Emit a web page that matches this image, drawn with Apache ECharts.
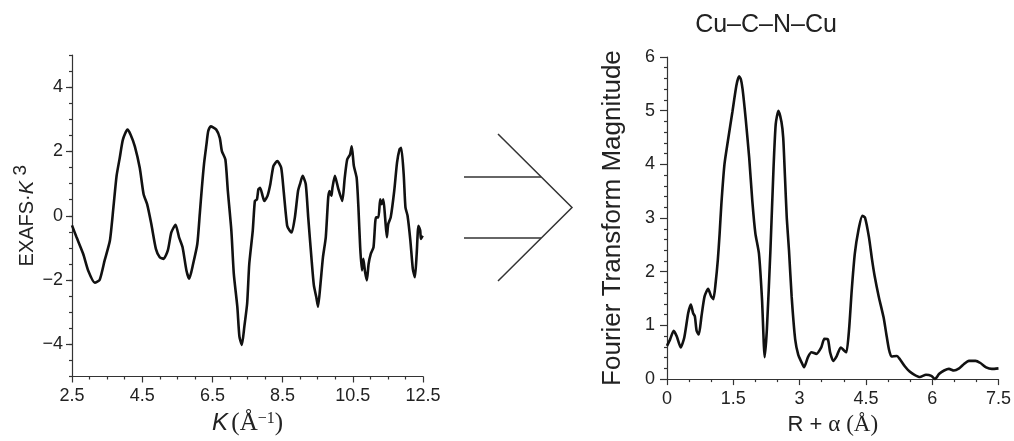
<!DOCTYPE html>
<html>
<head>
<meta charset="utf-8">
<script src="https://cdn.jsdelivr.net/npm/echarts@6/dist/echarts.min.js"></script>
<style>
  html, body { margin: 0; padding: 0; background: #fff; }
  #chart { width: 1014px; height: 441px; }
</style>
</head>
<body>
<div id="chart"></div>
<script>
// EXAFS oscillation (k-space, weighted by k^3)
const exafsK = [2.5,2.63,2.82,2.96,3.15,3.29,3.43,3.58,3.68,3.77,3.86,3.95,4.08,4.17,4.29,4.43,4.54,4.64,4.76,4.89,5.0,5.11,5.23,5.33,5.45,5.55,5.65,5.76,5.84,5.95,6.07,6.14,6.2,6.26,6.33,6.38,6.45,6.61,6.71,6.77,6.87,6.94,7.04,7.11,7.21,7.27,7.34,7.41,7.49,7.55,7.65,7.71,7.77,7.81,7.86,7.93,7.98,8.07,8.15,8.24,8.35,8.46,8.53,8.63,8.7,8.76,8.85,8.94,9.0,9.07,9.16,9.23,9.32,9.39,9.46,9.51,9.58,9.65,9.73,9.8,9.84,9.89,9.92,9.99,10.08,10.2,10.27,10.34,10.42,10.47,10.53,10.61,10.66,10.71,10.76,10.8,10.85,10.9,10.95,11.01,11.09,11.16,11.23,11.28,11.32,11.37,11.42,11.47,11.51,11.58,11.68,11.76,11.83,11.88,11.95,12.0,12.06,12.14,12.21,12.27,12.32,12.37,12.42,12.44,12.49];
const exafsVal = [-0.3,-0.67,-1.19,-1.7,-2.08,-1.99,-1.39,-0.77,0.26,1.24,1.8,2.37,2.68,2.52,2.16,1.49,0.67,0.36,-0.26,-1.03,-1.29,-1.34,-1.08,-0.52,-0.28,-0.67,-0.98,-1.7,-1.96,-1.5,-0.88,0.05,0.87,1.6,2.21,2.63,2.78,2.68,2.42,2.01,1.75,0.77,-0.46,-1.81,-2.83,-3.76,-4.02,-3.45,-2.73,-1.5,-0.46,0.46,0.51,0.82,0.87,0.62,0.46,0.62,0.98,1.55,1.7,1.49,0.77,-0.31,-0.46,-0.52,-0.05,0.77,1.0,1.24,0.98,-0.05,-1.29,-2.16,-2.53,-2.83,-2.11,-1.29,-0.67,0.57,0.77,0.62,0.87,1.24,0.87,0.46,1.18,1.75,1.9,2.16,1.55,1.18,0.26,-0.98,-1.7,-1.34,-1.75,-2.01,-1.5,-1.19,-0.98,-0.05,-0.05,0.51,0.36,0.51,-0.05,-0.67,-0.26,-0.05,0.77,1.65,2.06,2.11,1.29,0.26,0.0,-0.77,-1.65,-1.91,-1.19,-0.31,-0.46,-0.72,-0.62];

// Fourier transform magnitude (R-space)
const ftR = [0.0,0.07,0.15,0.22,0.31,0.39,0.48,0.54,0.59,0.63,0.67,0.72,0.78,0.85,0.93,1.0,1.05,1.1,1.15,1.19,1.23,1.3,1.38,1.48,1.57,1.63,1.67,1.71,1.78,1.86,1.93,2.0,2.08,2.15,2.21,2.26,2.34,2.41,2.46,2.52,2.59,2.63,2.67,2.71,2.76,2.82,2.9,2.97,3.04,3.1,3.19,3.27,3.38,3.49,3.56,3.64,3.69,3.76,3.84,3.93,4.01,4.06,4.12,4.18,4.25,4.33,4.42,4.48,4.57,4.64,4.7,4.79,4.9,4.96,5.02,5.08,5.2,5.27,5.38,5.49,5.6,5.72,5.86,5.98,6.06,6.16,6.27,6.38,6.49,6.61,6.72,6.83,6.98,7.09,7.22,7.35,7.5];
const ftMag = [0.62,0.74,0.9,0.8,0.59,0.77,1.23,1.39,1.23,1.17,0.9,0.83,1.17,1.54,1.68,1.54,1.49,1.79,2.22,2.7,3.26,4.0,4.45,4.98,5.47,5.64,5.59,5.4,4.85,4.12,3.32,2.71,2.34,1.48,0.41,0.93,2.4,3.93,4.75,5.0,4.79,4.49,3.75,3.0,2.4,1.54,0.74,0.45,0.32,0.22,0.41,0.5,0.47,0.59,0.75,0.74,0.5,0.34,0.43,0.59,0.53,0.5,0.93,1.66,2.34,2.77,3.04,3.01,2.64,2.22,1.91,1.54,1.15,0.85,0.56,0.42,0.43,0.37,0.24,0.14,0.08,0.04,0.08,0.06,0.0,0.1,0.16,0.19,0.16,0.2,0.28,0.34,0.34,0.3,0.22,0.19,0.2];

// Tick labels
const exafsYLabels = [-4, -2, 0, 2, 4];
const ftTitle = 'Cu–C–N–Cu';

const SANS = '"Liberation Sans", Arial, sans-serif';
const SERIF = '"Liberation Serif", "Times New Roman", serif';
const AX = '#333';
const INK = '#111';

const pairs = (xs, ys) => xs.map((x, i) => [x, ys[i]]);
const fmtNum = v => (v < 0 ? '\u2212' + Math.abs(v) : String(v));

const baseLabel = { fontFamily: SANS, fontSize: 18, color: '#222' };

const chart = echarts.init(document.getElementById('chart'), null, { renderer: 'canvas' });

chart.setOption({
  animation: false,
  backgroundColor: '#fff',
  grid: [
    { left: 72, top: 55, width: 351, height: 325 },
    { left: 667, top: 57, width: 336, height: 323 }
  ],
  xAxis: [
    {
      gridIndex: 0, type: 'value', min: 2.5, max: 12.5, interval: 2,
      axisLine: { show: true, onZero: false, lineStyle: { color: AX, width: 1.2 } },
      axisTick: { show: true, length: 6, lineStyle: { color: AX, width: 1.2 } },
      minorTick: { show: true, splitNumber: 4, length: 3, lineStyle: { color: AX, width: 1.2 } },
      splitLine: { show: false },
      axisLabel: Object.assign({}, baseLabel, { margin: 11, showMinLabel: true, showMaxLabel: true,
        formatter: v => v.toFixed(1) }),
      name: '{i|K} {r|(Å}{sup|\u22121}{r|)}',
      nameLocation: 'middle', nameGap: 34,
      nameTextStyle: {
        rich: {
          i: { fontFamily: SANS, fontStyle: 'italic', fontSize: 24, color: '#222' },
          r: { fontFamily: SERIF, fontSize: 25, color: '#222' },
          sup: { fontFamily: SERIF, fontSize: 16, color: '#222', verticalAlign: 'top', padding: [0, 0, 10, 0] }
        }
      }
    },
    {
      gridIndex: 1, type: 'value', min: 0, max: 7.5, interval: 1.5,
      axisLine: { show: true, onZero: false, lineStyle: { color: AX, width: 1.2 } },
      axisTick: { show: true, length: 6, lineStyle: { color: AX, width: 1.2 } },
      minorTick: { show: true, splitNumber: 3, length: 3, lineStyle: { color: AX, width: 1.2 } },
      splitLine: { show: false },
      axisLabel: Object.assign({}, baseLabel, { margin: 11, showMinLabel: true, showMaxLabel: true }),
      name: '{s|R + }{r|α (Å)}',
      nameLocation: 'middle', nameGap: 31,
      nameTextStyle: {
        rich: {
          s: { fontFamily: SANS, fontSize: 22, color: '#222' },
          r: { fontFamily: SERIF, fontSize: 23, color: '#222' }
        }
      }
    }
  ],
  yAxis: [
    {
      gridIndex: 0, type: 'value', position: 'left', min: -5, max: 5, interval: 1,
      axisLine: { show: true, onZero: false, lineStyle: { color: AX, width: 1.2 } },
      axisTick: { show: true, length: 6, customValues: exafsYLabels, lineStyle: { color: AX, width: 1.2 } },
      splitLine: { show: false },
      axisLabel: Object.assign({}, baseLabel, { margin: 9, customValues: exafsYLabels, formatter: fmtNum }),
      name: '{n|EXAFS·}{i|K}{sup| 3}',
      nameLocation: 'middle', nameRotate: 90, nameGap: 28,
      nameTextStyle: {
        rich: {
          n: { fontFamily: SANS, fontSize: 20, color: '#222' },
          i: { fontFamily: SANS, fontStyle: 'italic', fontSize: 20, color: '#222' },
          sup: { fontFamily: SANS, fontSize: 19, color: '#222', verticalAlign: 'top', padding: [0, 0, 14, 0] }
        }
      }
    },
    {
      // half-unit minor ticks on the EXAFS axis
      gridIndex: 0, type: 'value', position: 'left', offset: 0, min: -5, max: 5, interval: 0.5,
      axisLine: { show: false },
      axisTick: { show: true, length: 3, lineStyle: { color: AX, width: 1.2 } },
      axisLabel: { show: false },
      splitLine: { show: false }
    },
    {
      gridIndex: 1, type: 'value', min: 0, max: 6, interval: 1,
      axisLine: { show: true, onZero: false, lineStyle: { color: AX, width: 1.2 } },
      axisTick: { show: true, length: 7, lineStyle: { color: AX, width: 1.2 } },
      minorTick: { show: true, splitNumber: 5, length: 3, lineStyle: { color: AX, width: 1.2 } },
      splitLine: { show: false },
      axisLabel: Object.assign({}, baseLabel, { margin: 12 }),
      name: 'Fourier Transform Magnitude',
      nameLocation: 'middle', nameRotate: 90, nameGap: 41,
      nameTextStyle: { fontFamily: SANS, fontSize: 26, color: '#222' }
    }
  ],
  series: [
    {
      type: 'line', xAxisIndex: 0, yAxisIndex: 0,
      data: pairs(exafsK, exafsVal),
      showSymbol: false, smooth: 0.2,
      lineStyle: { color: INK, width: 2.6 }
    },
    {
      type: 'line', xAxisIndex: 1, yAxisIndex: 2,
      data: pairs(ftR, ftMag),
      showSymbol: false, smooth: 0.2,
      lineStyle: { color: INK, width: 2.6 }
    }
  ],
  graphic: [
    {
      type: 'text', x: 766, y: 25,
      style: { text: ftTitle, fontFamily: SANS, fontSize: 25, fill: '#222', align: 'center', verticalAlign: 'middle' }
    },
    // transform arrow between the two panels
    { type: 'line', shape: { x1: 464, y1: 177, x2: 541, y2: 177 }, style: { stroke: '#333', lineWidth: 1.5 } },
    { type: 'line', shape: { x1: 464, y1: 238, x2: 541, y2: 238 }, style: { stroke: '#333', lineWidth: 1.5 } },
    { type: 'polyline', shape: { points: [[498, 134], [572, 207.5], [498, 281]] }, style: { stroke: '#333', lineWidth: 1.5, fill: null } }
  ]
});
</script>
</body>
</html>
